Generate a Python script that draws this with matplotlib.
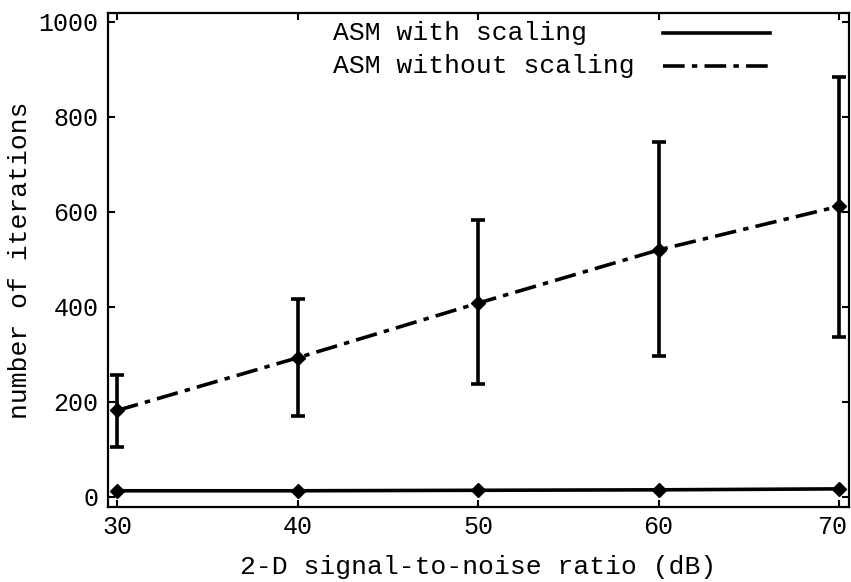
import matplotlib.pyplot as plt
import matplotlib.transforms as mtransforms

snr = [30, 40, 50, 60, 70]

# ASM without scaling: mean and error bar ends
no_scale = [182, 293, 408, 520, 612]
no_scale_hi = [257, 417, 583, 747, 884]
no_scale_lo = [105, 171, 238, 297, 337]

# ASM with scaling (nearly flat)
with_scale = [13, 13, 14, 15, 17]

labels = ['ASM with scaling', 'ASM without scaling']

plt.rcParams['font.family'] = ['Liberation Mono', 'DejaVu Sans Mono']

fig = plt.figure(figsize=(8.51, 5.82), dpi=100)
ax = fig.add_axes([0.127, 0.129, 0.8706, 0.8488])

dd = (6, 2, 1.5, 2)
err = [[m - l for m, l in zip(no_scale, no_scale_lo)],
       [h - m for m, h in zip(no_scale, no_scale_hi)]]
ax.errorbar(snr, no_scale, yerr=err, color='k', linewidth=2.6,
            dashes=dd, marker='D', markersize=7,
            elinewidth=2.6, capsize=5, capthick=2.6)
ax.plot(snr, with_scale, color='k', linewidth=2.6, marker='D', markersize=7)

ax.set_xlim(29.5, 70.55)
ax.set_ylim(-21, 1019)
ax.set_xticks(snr)
ax.set_yticks([0, 200, 400, 600, 800, 1000])
ax.tick_params(direction='in', length=5, width=1.5, top=True, right=True,
               labelsize=18)
ax.tick_params(axis='y', pad=7)
ax.tick_params(axis='x', pad=6)
for s in ax.spines.values():
    s.set_linewidth(1.6)

# last x tick label sits against the figure edge; nudge it in a bit
last = ax.get_xticklabels()[-1]
last.set_transform(last.get_transform() +
                   mtransforms.ScaledTranslation(-0.07, 0, fig.dpi_scale_trans))

ax.set_xlabel('2-D signal-to-noise ratio (dB)', fontsize=19)
ax.set_ylabel('number of iterations', fontsize=19)
ax.xaxis.set_label_coords(0.5, -0.097)
ax.yaxis.set_label_coords(-0.103, 0.5)

# gnuplot-style key: left-justified text, sample line to the right
key_y = [0.9595, 0.8927]
styles = [dict(), dict(dashes=dd)]
for lab, yy, st in zip(labels, key_y, styles):
    ax.text(0.3036, yy, lab, transform=ax.transAxes, fontsize=19,
            ha='left', va='center')
    ax.plot([0.749, 0.8934], [yy, yy], transform=ax.transAxes, color='k',
            linewidth=2.6, **st)

plt.savefig('out.png')
